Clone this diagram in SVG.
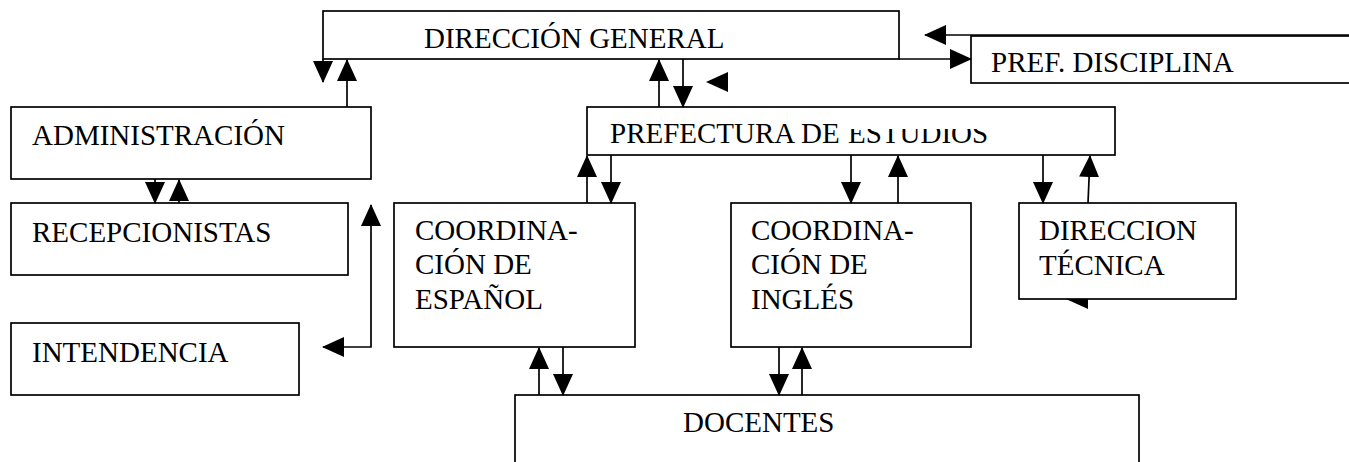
<svg xmlns="http://www.w3.org/2000/svg" width="1349" height="462" viewBox="0 0 1349 462">
<style>
.box{fill:#fff;stroke:#000;stroke-width:1.7}
.t{font-family:'Liberation Serif','Times New Roman','DejaVu Serif',serif;font-size:29px;fill:#000}
.c{fill:none;stroke:#000;stroke-width:1.7}
.ah{fill:#000;stroke:none}
</style>
<defs>
<marker id="a" markerUnits="userSpaceOnUse" markerWidth="22" markerHeight="20" viewBox="0 0 22 20" refX="21" refY="10" orient="auto-start-reverse">
<path d="M0,0 L22,10 L0,20 z" fill="#000"/>
</marker>
<clipPath id="clipEst"><rect x="0" y="129" width="1349" height="40"/></clipPath>
</defs>
<rect width="1349" height="462" fill="#fff"/>
<g id="direccion-general">
<rect class="box" x="323" y="11" width="576" height="48"/>
<text class="t" x="424" y="48">DIRECCIÓN GENERAL</text>
</g>
<g id="pref-disciplina">
<rect class="box" x="971" y="36" width="400" height="47"/>
<text class="t" x="991" y="72">PREF. DISCIPLINA</text>
</g>
<g id="administracion">
<rect class="box" x="11" y="107" width="360" height="72"/>
<text class="t" x="32" y="145">ADMINISTRACIÓN</text>
</g>
<g id="recepcionistas">
<rect class="box" x="11" y="203" width="337" height="72"/>
<text class="t" x="32" y="242">RECEPCIONISTAS</text>
</g>
<g id="intendencia">
<rect class="box" x="11" y="323" width="288" height="72"/>
<text class="t" x="32" y="362">INTENDENCIA</text>
</g>
<g id="prefectura-estudios">
<rect class="box" x="587" y="107" width="528" height="48"/>
<text class="t" x="610" y="143">PREFECTURA DE </text>
<text class="t" x="848" y="143" clip-path="url(#clipEst)">ESTUDIOS</text>
</g>
<g id="coord-espanol">
<rect class="box" x="394" y="203" width="241" height="144"/>
<text class="t" x="415" y="240">COORDINA-</text>
<text class="t" x="415" y="274">CIÓN DE</text>
<text class="t" x="415" y="309">ESPAÑOL</text>
</g>
<g id="coord-ingles">
<rect class="box" x="731" y="203" width="240" height="144"/>
<text class="t" x="751" y="240">COORDINA-</text>
<text class="t" x="751" y="274">CIÓN DE</text>
<text class="t" x="751" y="309">INGLÉS</text>
</g>
<g id="direccion-tecnica">
<rect class="box" x="1019" y="203" width="217" height="96"/>
<text class="t" x="1039" y="240">DIRECCION</text>
<text class="t" x="1039" y="275">TÉCNICA</text>
</g>
<g id="docentes">
<rect class="box" x="515" y="395" width="624" height="80"/>
<text class="t" x="683" y="432">DOCENTES</text>
</g>
<g id="connectors">
<path class="c" d="M323,59 V82" marker-end="url(#a)"/>
<path class="c" d="M347,107 V60" marker-end="url(#a)"/>
<path class="c" d="M155,179 V203" marker-end="url(#a)"/>
<path class="c" d="M179,203 V180" marker-end="url(#a)"/>
<path class="c" d="M323,347 H371 V205" marker-start="url(#a)" marker-end="url(#a)"/>
<path class="c" d="M659,107 V60" marker-end="url(#a)"/>
<path class="c" d="M683,59 V107" marker-end="url(#a)"/>
<polygon class="ah" points="706,82 728,72 728,92"/>
<path class="c" d="M899,59 H971" marker-end="url(#a)"/>
<path class="c" d="M1349,35 H925" marker-end="url(#a)"/>
<path class="c" d="M587,203 V156" marker-end="url(#a)"/>
<path class="c" d="M611,155 V203" marker-end="url(#a)"/>
<path class="c" d="M851,155 V203" marker-end="url(#a)"/>
<path class="c" d="M898,203 V156" marker-end="url(#a)"/>
<path class="c" d="M1043,155 V203" marker-end="url(#a)"/>
<path class="c" d="M1088,203 L1090,156" marker-end="url(#a)"/>
<path class="c" d="M539,395 V348" marker-end="url(#a)"/>
<path class="c" d="M563,347 V395" marker-end="url(#a)"/>
<path class="c" d="M779,347 V395" marker-end="url(#a)"/>
<path class="c" d="M802,395 V348" marker-end="url(#a)"/>
<polygon class="ah" points="1066,299 1088,299 1088,309"/>
</g>
</svg>
